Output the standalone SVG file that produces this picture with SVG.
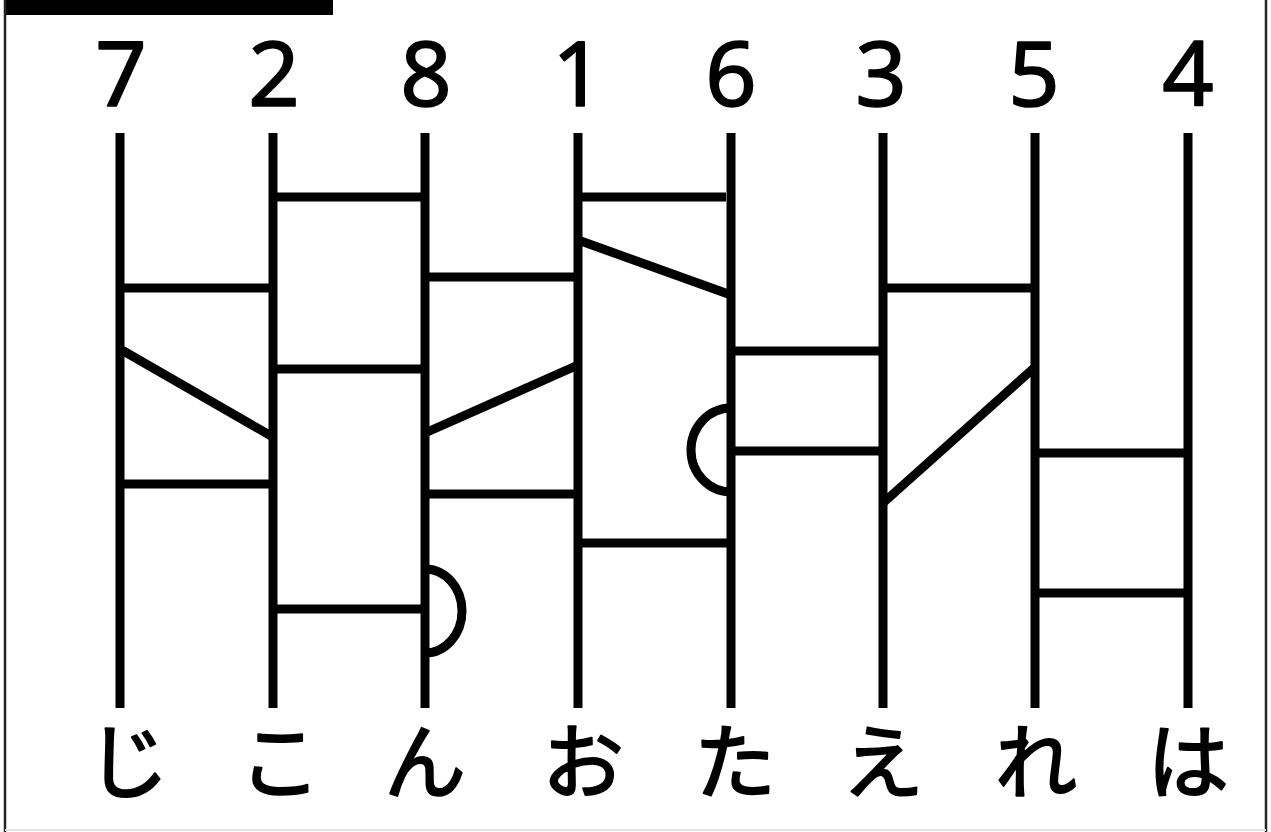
<svg xmlns="http://www.w3.org/2000/svg" width="1271" height="832" viewBox="0 0 1271 832">
<style>
.ln{stroke:#000;stroke-width:9;fill:none;stroke-linecap:butt}
.num{font-family:"Noto Sans","Noto Sans CJK JP",sans-serif;font-size:90px;fill:#000;text-anchor:middle;stroke:#000;stroke-width:1.6;stroke-linejoin:round}
.kana{font-family:"Noto Sans CJK JP",sans-serif;font-size:82px;fill:#000;text-anchor:middle;stroke:#000;stroke-width:2;stroke-linejoin:round}
</style>
<rect x="0" y="0" width="1271" height="832" fill="#fff"/>
<g id="frame">
<rect x="5" y="0" width="328" height="15" fill="#000"/>
<line x1="5" y1="0" x2="5" y2="832" stroke="#222" stroke-width="2.5"/>
<line x1="1266" y1="0" x2="1266" y2="832" stroke="#222" stroke-width="2.5"/>
<line x1="5" y1="830" x2="1266" y2="830" stroke="#e4e4e4" stroke-width="2"/>
</g>
<g id="labels-top">
<text class="num" x="121" y="106">7</text>
<text class="num" x="274" y="106">2</text>
<text class="num" x="426" y="106">8</text>
<text class="num" x="578" y="106">1</text>
<text class="num" x="731" y="106">6</text>
<text class="num" x="881" y="106">3</text>
<text class="num" x="1034" y="106">5</text>
<text class="num" x="1188" y="106">4</text>
</g>
<g id="labels-bottom">
<text class="kana" x="128" y="792">じ</text>
<text class="kana" x="280" y="792">こ</text>
<text class="kana" x="425" y="792">ん</text>
<text class="kana" x="583" y="792">お</text>
<text class="kana" x="735" y="792">た</text>
<text class="kana" x="883" y="792">え</text>
<text class="kana" x="1036" y="792">れ</text>
<text class="kana" x="1188" y="792">は</text>
</g>
<g id="verticals">
<line class="ln" x1="120" y1="133" x2="120" y2="708"/>
<line class="ln" x1="273" y1="133" x2="273" y2="708"/>
<line class="ln" x1="425" y1="133" x2="425" y2="708"/>
<line class="ln" x1="578" y1="133" x2="578" y2="708"/>
<line class="ln" x1="731" y1="133" x2="731" y2="708"/>
<line class="ln" x1="883" y1="133" x2="883" y2="708"/>
<line class="ln" x1="1035" y1="133" x2="1035" y2="708"/>
<line class="ln" x1="1188" y1="133" x2="1188" y2="708"/>
</g>
<g id="connectors">
<line class="ln" x1="273" y1="197" x2="425" y2="197"/>
<line class="ln" x1="578" y1="197" x2="726" y2="197"/>
<line class="ln" x1="120" y1="288" x2="273" y2="288"/>
<line class="ln" x1="425" y1="277" x2="578" y2="277"/>
<line class="ln" x1="578" y1="240" x2="731" y2="295"/>
<line class="ln" x1="883" y1="288" x2="1035" y2="288"/>
<line class="ln" x1="731" y1="351" x2="883" y2="351"/>
<line class="ln" x1="273" y1="369" x2="425" y2="369"/>
<line class="ln" x1="120" y1="349" x2="273" y2="437"/>
<line class="ln" x1="425" y1="433" x2="578" y2="365"/>
<line class="ln" x1="1035" y1="367" x2="883" y2="503"/>
<line class="ln" x1="731" y1="451" x2="883" y2="451"/>
<line class="ln" x1="1035" y1="453" x2="1188" y2="453"/>
<line class="ln" x1="120" y1="484" x2="273" y2="484"/>
<line class="ln" x1="425" y1="494" x2="578" y2="494"/>
<line class="ln" x1="578" y1="543" x2="731" y2="543"/>
<line class="ln" x1="1035" y1="593" x2="1188" y2="593"/>
<line class="ln" x1="273" y1="609" x2="425" y2="609"/>
<path class="ln" d="M731 408 A40 42 0 0 0 731 492"/>
<path class="ln" d="M425 569 A37 42 0 0 1 425 653"/>
</g>
</svg>
